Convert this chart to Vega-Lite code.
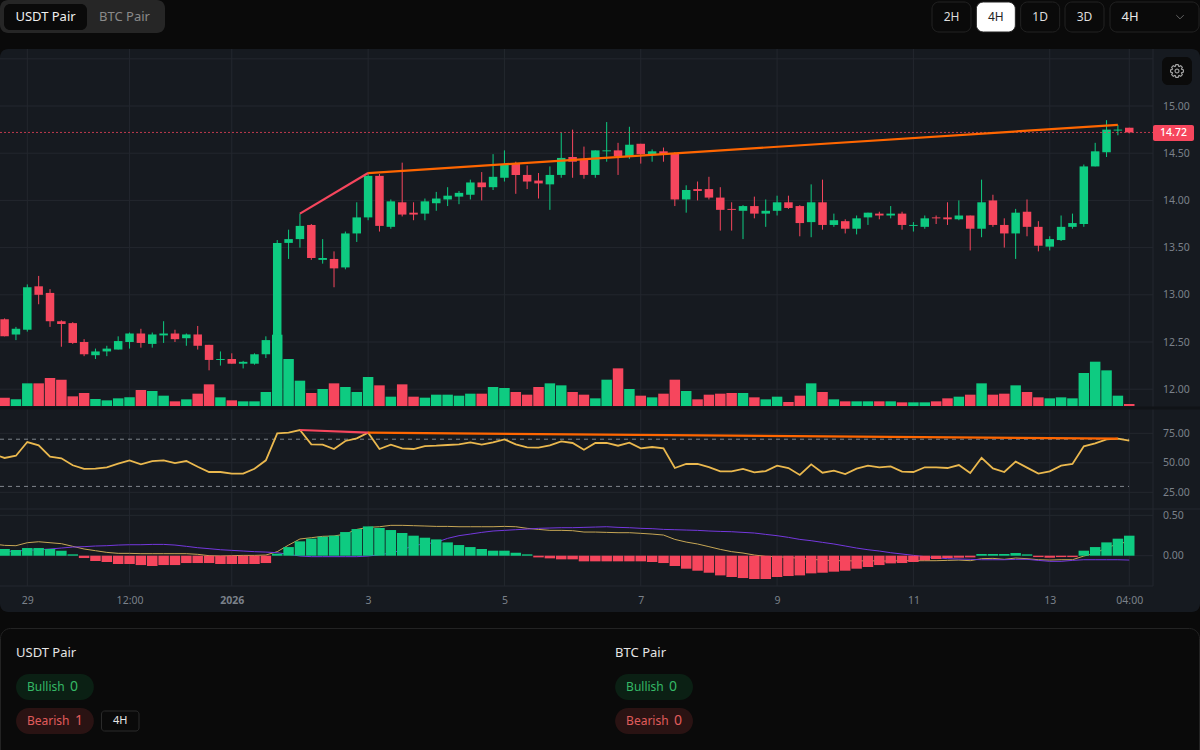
{
"$schema":"https://vega.github.io/schema/vega-lite/v6.json",
"width":1200,"height":750,"padding":0,"autosize":{"type":"none"},
"background":"#0a0a0a",
"config":{"font":"Noto Sans","view":{"stroke":null}},
"resolve":{"scale":{"x":"independent","y":"independent"},"axis":{"x":"independent","y":"independent"}},
"datasets":{
"bars":[
{"t":"2025-12-28T12:00:00Z","rsi":57.5,"macd":0.145,"signal":0.045},
{"t":"2025-12-28T16:00:00Z","o":12.74,"h":12.75,"l":12.56,"c":12.56,"vol":25,"rsi":54.1,"macd":0.128,"signal":0.05,"hist":0.083},
{"t":"2025-12-28T20:00:00Z","o":12.58,"h":12.66,"l":12.52,"c":12.64,"vol":20,"rsi":56.0,"macd":0.124,"signal":0.058,"hist":0.07},
{"t":"2025-12-29T00:00:00Z","o":12.63,"h":13.11,"l":12.61,"c":13.08,"vol":68,"rsi":67.6,"macd":0.161,"signal":0.066,"hist":0.095},
{"t":"2025-12-29T04:00:00Z","o":13.09,"h":13.2,"l":12.9,"c":13.0,"vol":68,"rsi":64.8,"macd":0.173,"signal":0.074,"hist":0.095},
{"t":"2025-12-29T08:00:00Z","o":13.02,"h":13.06,"l":12.66,"c":12.72,"vol":84,"rsi":55.2,"macd":0.161,"signal":0.083,"hist":0.083},
{"t":"2025-12-29T12:00:00Z","o":12.72,"h":12.73,"l":12.45,"c":12.69,"vol":79,"rsi":53.8,"macd":0.149,"signal":0.095,"hist":0.062},
{"t":"2025-12-29T16:00:00Z","o":12.7,"h":12.71,"l":12.48,"c":12.49,"vol":29,"rsi":47.9,"macd":0.116,"signal":0.107,"hist":0.017},
{"t":"2025-12-29T20:00:00Z","o":12.5,"h":12.53,"l":12.35,"c":12.37,"vol":39,"rsi":44.8,"macd":0.083,"signal":0.112,"hist":-0.029},
{"t":"2025-12-30T00:00:00Z","o":12.36,"h":12.43,"l":12.32,"c":12.4,"vol":21,"rsi":45.0,"macd":0.062,"signal":0.12,"hist":-0.066},
{"t":"2025-12-30T04:00:00Z","o":12.4,"h":12.46,"l":12.35,"c":12.43,"vol":17,"rsi":46.2,"macd":0.041,"signal":0.124,"hist":-0.078},
{"t":"2025-12-30T08:00:00Z","o":12.42,"h":12.56,"l":12.42,"c":12.51,"vol":23,"rsi":49.3,"macd":0.029,"signal":0.132,"hist":-0.103},
{"t":"2025-12-30T12:00:00Z","o":12.5,"h":12.6,"l":12.43,"c":12.59,"vol":26,"rsi":52.1,"macd":0.029,"signal":0.136,"hist":-0.103},
{"t":"2025-12-30T16:00:00Z","o":12.59,"h":12.64,"l":12.44,"c":12.49,"vol":48,"rsi":48.7,"macd":0.025,"signal":0.136,"hist":-0.116},
{"t":"2025-12-30T20:00:00Z","o":12.48,"h":12.6,"l":12.44,"c":12.58,"vol":45,"rsi":51.5,"macd":0.025,"signal":0.14,"hist":-0.128},
{"t":"2025-12-31T00:00:00Z","o":12.57,"h":12.72,"l":12.49,"c":12.59,"vol":31,"rsi":52.1,"macd":0.025,"signal":0.14,"hist":-0.116},
{"t":"2025-12-31T04:00:00Z","o":12.59,"h":12.63,"l":12.5,"c":12.53,"vol":14,"rsi":49.8,"macd":0.025,"signal":0.132,"hist":-0.116},
{"t":"2025-12-31T08:00:00Z","o":12.54,"h":12.59,"l":12.46,"c":12.58,"vol":20,"rsi":51.5,"macd":0.025,"signal":0.116,"hist":-0.091},
{"t":"2025-12-31T12:00:00Z","o":12.58,"h":12.67,"l":12.42,"c":12.46,"vol":37,"rsi":46.7,"macd":0.017,"signal":0.099,"hist":-0.091},
{"t":"2025-12-31T16:00:00Z","o":12.47,"h":12.47,"l":12.2,"c":12.31,"vol":65,"rsi":42.2,"macd":0,"signal":0.087,"hist":-0.091},
{"t":"2025-12-31T20:00:00Z","o":12.31,"h":12.4,"l":12.25,"c":12.32,"vol":26,"rsi":42.2,"macd":-0.004,"signal":0.074,"hist":-0.103},
{"t":"2026-01-01T00:00:00Z","o":12.32,"h":12.38,"l":12.27,"c":12.27,"vol":17,"rsi":40.8,"macd":0,"signal":0.066,"hist":-0.103},
{"t":"2026-01-01T04:00:00Z","o":12.27,"h":12.3,"l":12.22,"c":12.29,"vol":14,"rsi":40.8,"macd":0.004,"signal":0.058,"hist":-0.103},
{"t":"2026-01-01T08:00:00Z","o":12.27,"h":12.38,"l":12.26,"c":12.37,"vol":14,"rsi":45.0,"macd":0.004,"signal":0.05,"hist":-0.103},
{"t":"2026-01-01T12:00:00Z","o":12.37,"h":12.56,"l":12.33,"c":12.52,"vol":42,"rsi":52.1,"macd":0.008,"signal":0.045,"hist":-0.091},
{"t":"2026-01-01T16:00:00Z","o":12.52,"h":13.58,"l":12.51,"c":13.55,"vol":214,"rsi":75.0,"macd":0.05,"signal":0.037,"hist":0.025},
{"t":"2026-01-01T20:00:00Z","o":13.55,"h":13.69,"l":13.38,"c":13.59,"vol":141,"rsi":75.5,"macd":0.132,"signal":0.017,"hist":0.107},
{"t":"2026-01-02T00:00:00Z","o":13.59,"h":13.86,"l":13.5,"c":13.73,"vol":76,"rsi":77.8,"macd":0.207,"signal":-0.004,"hist":0.178},
{"t":"2026-01-02T04:00:00Z","o":13.74,"h":13.75,"l":13.37,"c":13.39,"vol":39,"rsi":65.6,"macd":0.223,"signal":-0.012,"hist":0.211},
{"t":"2026-01-02T08:00:00Z","o":13.37,"h":13.59,"l":13.33,"c":13.39,"vol":51,"rsi":65.4,"macd":0.24,"signal":-0.012,"hist":0.235},
{"t":"2026-01-02T12:00:00Z","o":13.38,"h":13.46,"l":13.08,"c":13.28,"vol":68,"rsi":61.7,"macd":0.244,"signal":-0.012,"hist":0.248},
{"t":"2026-01-02T16:00:00Z","o":13.29,"h":13.67,"l":13.27,"c":13.65,"vol":57,"rsi":68.5,"macd":0.268,"signal":-0.012,"hist":0.293},
{"t":"2026-01-02T20:00:00Z","o":13.65,"h":13.98,"l":13.56,"c":13.82,"vol":42,"rsi":70.7,"macd":0.326,"signal":-0.012,"hist":0.33},
{"t":"2026-01-03T00:00:00Z","o":13.82,"h":14.29,"l":13.79,"c":14.26,"vol":87,"rsi":75.5,"macd":0.351,"signal":-0.004,"hist":0.363},
{"t":"2026-01-03T04:00:00Z","o":14.26,"h":14.28,"l":13.67,"c":13.73,"vol":62,"rsi":61.7,"macd":0.359,"signal":0.012,"hist":0.343},
{"t":"2026-01-03T08:00:00Z","o":13.72,"h":14.01,"l":13.7,"c":13.99,"vol":28,"rsi":65.4,"macd":0.376,"signal":0.033,"hist":0.318},
{"t":"2026-01-03T12:00:00Z","o":13.98,"h":14.4,"l":13.83,"c":13.85,"vol":65,"rsi":62.2,"macd":0.376,"signal":0.07,"hist":0.281},
{"t":"2026-01-03T16:00:00Z","o":13.87,"h":13.98,"l":13.79,"c":13.85,"vol":28,"rsi":61.7,"macd":0.372,"signal":0.128,"hist":0.248},
{"t":"2026-01-03T20:00:00Z","o":13.86,"h":14.02,"l":13.79,"c":13.99,"vol":25,"rsi":64.2,"macd":0.368,"signal":0.145,"hist":0.223},
{"t":"2026-01-04T00:00:00Z","o":13.97,"h":14.09,"l":13.89,"c":14.02,"vol":34,"rsi":64.5,"macd":0.363,"signal":0.165,"hist":0.202},
{"t":"2026-01-04T04:00:00Z","o":14.01,"h":14.14,"l":13.94,"c":14.05,"vol":34,"rsi":65.1,"macd":0.363,"signal":0.215,"hist":0.165},
{"t":"2026-01-04T08:00:00Z","o":14.04,"h":14.1,"l":13.96,"c":14.08,"vol":31,"rsi":65.6,"macd":0.359,"signal":0.248,"hist":0.132},
{"t":"2026-01-04T12:00:00Z","o":14.06,"h":14.22,"l":14.01,"c":14.19,"vol":37,"rsi":67.3,"macd":0.359,"signal":0.268,"hist":0.107},
{"t":"2026-01-04T16:00:00Z","o":14.19,"h":14.3,"l":14.0,"c":14.14,"vol":37,"rsi":65.4,"macd":0.359,"signal":0.289,"hist":0.083},
{"t":"2026-01-04T20:00:00Z","o":14.14,"h":14.49,"l":14.11,"c":14.25,"vol":57,"rsi":67.3,"macd":0.359,"signal":0.306,"hist":0.062},
{"t":"2026-01-05T00:00:00Z","o":14.24,"h":14.53,"l":14.2,"c":14.38,"vol":54,"rsi":69.9,"macd":0.363,"signal":0.314,"hist":0.062},
{"t":"2026-01-05T04:00:00Z","o":14.39,"h":14.41,"l":14.07,"c":14.27,"vol":42,"rsi":65.6,"macd":0.359,"signal":0.322,"hist":0.037},
{"t":"2026-01-05T08:00:00Z","o":14.27,"h":14.37,"l":14.12,"c":14.2,"vol":34,"rsi":63.1,"macd":0.339,"signal":0.33,"hist":0.017},
{"t":"2026-01-05T12:00:00Z","o":14.21,"h":14.29,"l":14.02,"c":14.18,"vol":57,"rsi":62.8,"macd":0.326,"signal":0.339,"hist":-0.021},
{"t":"2026-01-05T16:00:00Z","o":14.17,"h":14.36,"l":13.9,"c":14.27,"vol":68,"rsi":64.8,"macd":0.314,"signal":0.343,"hist":-0.033},
{"t":"2026-01-05T20:00:00Z","o":14.27,"h":14.72,"l":14.24,"c":14.45,"vol":62,"rsi":68.2,"macd":0.314,"signal":0.347,"hist":-0.045},
{"t":"2026-01-06T00:00:00Z","o":14.46,"h":14.75,"l":14.24,"c":14.41,"vol":42,"rsi":66.8,"macd":0.31,"signal":0.347,"hist":-0.045},
{"t":"2026-01-06T04:00:00Z","o":14.44,"h":14.57,"l":14.23,"c":14.27,"vol":34,"rsi":61.1,"macd":0.293,"signal":0.351,"hist":-0.07},
{"t":"2026-01-06T08:00:00Z","o":14.27,"h":14.53,"l":14.24,"c":14.53,"vol":23,"rsi":66.8,"macd":0.293,"signal":0.355,"hist":-0.07},
{"t":"2026-01-06T12:00:00Z","o":14.52,"h":14.83,"l":14.41,"c":14.53,"vol":79,"rsi":66.8,"macd":0.289,"signal":0.359,"hist":-0.07},
{"t":"2026-01-06T16:00:00Z","o":14.53,"h":14.61,"l":14.27,"c":14.47,"vol":113,"rsi":64.5,"macd":0.285,"signal":0.351,"hist":-0.07},
{"t":"2026-01-06T20:00:00Z","o":14.47,"h":14.78,"l":14.44,"c":14.59,"vol":51,"rsi":67.1,"macd":0.285,"signal":0.347,"hist":-0.07},
{"t":"2026-01-07T00:00:00Z","o":14.6,"h":14.6,"l":14.39,"c":14.49,"vol":31,"rsi":62.2,"macd":0.277,"signal":0.339,"hist":-0.07},
{"t":"2026-01-07T04:00:00Z","o":14.48,"h":14.54,"l":14.41,"c":14.52,"vol":26,"rsi":63.4,"macd":0.268,"signal":0.335,"hist":-0.078},
{"t":"2026-01-07T08:00:00Z","o":14.52,"h":14.56,"l":14.41,"c":14.49,"vol":37,"rsi":62.2,"macd":0.256,"signal":0.326,"hist":-0.091},
{"t":"2026-01-07T12:00:00Z","o":14.5,"h":14.51,"l":13.94,"c":14.01,"vol":79,"rsi":45.6,"macd":0.202,"signal":0.322,"hist":-0.128},
{"t":"2026-01-07T16:00:00Z","o":14.01,"h":14.16,"l":13.87,"c":14.11,"vol":45,"rsi":49.0,"macd":0.169,"signal":0.318,"hist":-0.161},
{"t":"2026-01-07T20:00:00Z","o":14.12,"h":14.2,"l":14.0,"c":14.1,"vol":20,"rsi":49.0,"macd":0.145,"signal":0.314,"hist":-0.186},
{"t":"2026-01-08T00:00:00Z","o":14.12,"h":14.25,"l":14.01,"c":14.03,"vol":34,"rsi":46.4,"macd":0.112,"signal":0.306,"hist":-0.211},
{"t":"2026-01-08T04:00:00Z","o":14.03,"h":14.14,"l":13.68,"c":13.9,"vol":37,"rsi":42.8,"macd":0.078,"signal":0.301,"hist":-0.244},
{"t":"2026-01-08T08:00:00Z","o":13.91,"h":13.98,"l":13.68,"c":13.9,"vol":39,"rsi":42.8,"macd":0.05,"signal":0.297,"hist":-0.264},
{"t":"2026-01-08T12:00:00Z","o":13.89,"h":13.95,"l":13.59,"c":13.94,"vol":39,"rsi":44.8,"macd":0.033,"signal":0.289,"hist":-0.277},
{"t":"2026-01-08T16:00:00Z","o":13.94,"h":14.04,"l":13.81,"c":13.86,"vol":26,"rsi":41.9,"macd":0.008,"signal":0.281,"hist":-0.289},
{"t":"2026-01-08T20:00:00Z","o":13.86,"h":14.01,"l":13.72,"c":13.89,"vol":20,"rsi":43.0,"macd":-0.008,"signal":0.264,"hist":-0.289},
{"t":"2026-01-09T00:00:00Z","o":13.89,"h":14.05,"l":13.84,"c":13.98,"vol":28,"rsi":47.6,"macd":-0.012,"signal":0.248,"hist":-0.264},
{"t":"2026-01-09T04:00:00Z","o":13.98,"h":14.05,"l":13.91,"c":13.92,"vol":12,"rsi":45.6,"macd":-0.021,"signal":0.227,"hist":-0.252},
{"t":"2026-01-09T08:00:00Z","o":13.94,"h":13.95,"l":13.62,"c":13.76,"vol":31,"rsi":39.7,"macd":-0.033,"signal":0.202,"hist":-0.244},
{"t":"2026-01-09T12:00:00Z","o":13.77,"h":14.17,"l":13.61,"c":13.98,"vol":68,"rsi":48.7,"macd":-0.045,"signal":0.186,"hist":-0.219},
{"t":"2026-01-09T16:00:00Z","o":13.98,"h":14.22,"l":13.69,"c":13.74,"vol":42,"rsi":41.6,"macd":-0.054,"signal":0.165,"hist":-0.211},
{"t":"2026-01-09T20:00:00Z","o":13.74,"h":13.86,"l":13.72,"c":13.79,"vol":20,"rsi":43.3,"macd":-0.062,"signal":0.145,"hist":-0.198},
{"t":"2026-01-10T00:00:00Z","o":13.78,"h":13.8,"l":13.65,"c":13.7,"vol":14,"rsi":40.5,"macd":-0.062,"signal":0.12,"hist":-0.186},
{"t":"2026-01-10T04:00:00Z","o":13.7,"h":13.84,"l":13.64,"c":13.81,"vol":14,"rsi":45.0,"macd":-0.066,"signal":0.095,"hist":-0.161},
{"t":"2026-01-10T08:00:00Z","o":13.82,"h":13.87,"l":13.74,"c":13.87,"vol":14,"rsi":47.6,"macd":-0.062,"signal":0.074,"hist":-0.14},
{"t":"2026-01-10T12:00:00Z","o":13.86,"h":13.88,"l":13.8,"c":13.84,"vol":14,"rsi":46.2,"macd":-0.066,"signal":0.058,"hist":-0.116},
{"t":"2026-01-10T16:00:00Z","o":13.84,"h":13.94,"l":13.81,"c":13.86,"vol":14,"rsi":47.0,"macd":-0.066,"signal":0.037,"hist":-0.095},
{"t":"2026-01-10T20:00:00Z","o":13.86,"h":13.88,"l":13.69,"c":13.74,"vol":11,"rsi":42.5,"macd":-0.062,"signal":0.021,"hist":-0.091},
{"t":"2026-01-11T00:00:00Z","o":13.73,"h":13.77,"l":13.67,"c":13.74,"vol":11,"rsi":42.2,"macd":-0.062,"signal":0.004,"hist":-0.078},
{"t":"2026-01-11T04:00:00Z","o":13.72,"h":13.84,"l":13.7,"c":13.81,"vol":11,"rsi":46.2,"macd":-0.062,"signal":-0.012,"hist":-0.058},
{"t":"2026-01-11T08:00:00Z","o":13.82,"h":13.84,"l":13.75,"c":13.81,"vol":14,"rsi":46.2,"macd":-0.062,"signal":-0.025,"hist":-0.041},
{"t":"2026-01-11T12:00:00Z","o":13.82,"h":13.98,"l":13.74,"c":13.8,"vol":23,"rsi":45.6,"macd":-0.058,"signal":-0.037,"hist":-0.029},
{"t":"2026-01-11T16:00:00Z","o":13.8,"h":14.0,"l":13.79,"c":13.84,"vol":28,"rsi":48.1,"macd":-0.054,"signal":-0.041,"hist":-0.025},
{"t":"2026-01-11T20:00:00Z","o":13.84,"h":13.84,"l":13.47,"c":13.7,"vol":34,"rsi":41.4,"macd":-0.062,"signal":-0.045,"hist":-0.021},
{"t":"2026-01-12T00:00:00Z","o":13.7,"h":14.22,"l":13.61,"c":13.98,"vol":68,"rsi":54.3,"macd":-0.037,"signal":-0.05,"hist":0.021},
{"t":"2026-01-12T04:00:00Z","o":14.0,"h":14.06,"l":13.72,"c":13.74,"vol":34,"rsi":45.3,"macd":-0.033,"signal":-0.05,"hist":0.021},
{"t":"2026-01-12T08:00:00Z","o":13.74,"h":13.81,"l":13.5,"c":13.65,"vol":37,"rsi":42.2,"macd":-0.045,"signal":-0.05,"hist":0.021},
{"t":"2026-01-12T12:00:00Z","o":13.65,"h":13.91,"l":13.38,"c":13.87,"vol":62,"rsi":51.0,"macd":-0.029,"signal":-0.045,"hist":0.033},
{"t":"2026-01-12T16:00:00Z","o":13.88,"h":14.01,"l":13.62,"c":13.72,"vol":42,"rsi":45.9,"macd":-0.037,"signal":-0.045,"hist":0.017},
{"t":"2026-01-12T20:00:00Z","o":13.72,"h":13.78,"l":13.46,"c":13.52,"vol":26,"rsi":40.8,"macd":-0.05,"signal":-0.058,"hist":-0.017},
{"t":"2026-01-13T00:00:00Z","o":13.51,"h":13.62,"l":13.47,"c":13.59,"vol":23,"rsi":42.8,"macd":-0.054,"signal":-0.07,"hist":-0.025},
{"t":"2026-01-13T04:00:00Z","o":13.58,"h":13.84,"l":13.57,"c":13.72,"vol":26,"rsi":47.6,"macd":-0.05,"signal":-0.07,"hist":-0.017},
{"t":"2026-01-13T08:00:00Z","o":13.72,"h":13.86,"l":13.7,"c":13.76,"vol":23,"rsi":49.0,"macd":-0.05,"signal":-0.058,"hist":-0.017},
{"t":"2026-01-13T12:00:00Z","o":13.75,"h":14.38,"l":13.72,"c":14.36,"vol":99,"rsi":64.0,"macd":-0.004,"signal":-0.05,"hist":0.062},
{"t":"2026-01-13T16:00:00Z","o":14.36,"h":14.61,"l":14.36,"c":14.52,"vol":133,"rsi":66.5,"macd":0.029,"signal":-0.05,"hist":0.107},
{"t":"2026-01-13T20:00:00Z","o":14.51,"h":14.85,"l":14.46,"c":14.75,"vol":107,"rsi":69.9,"macd":0.099,"signal":-0.05,"hist":0.165},
{"t":"2026-01-14T00:00:00Z","o":14.74,"h":14.8,"l":14.69,"c":14.75,"vol":31,"rsi":70.5,"macd":0.145,"signal":-0.05,"hist":0.211},
{"t":"2026-01-14T04:00:00Z","o":14.77,"h":14.77,"l":14.71,"c":14.72,"vol":6,"rsi":68.8,"macd":0.178,"signal":-0.054,"hist":0.248}
],
"timeTicks":[{"t":"2025-12-29T00:00:00Z"},{"t":"2025-12-30T12:00:00Z"},{"t":"2026-01-01T00:00:00Z"},{"t":"2026-01-03T00:00:00Z"},{"t":"2026-01-05T00:00:00Z"},{"t":"2026-01-07T00:00:00Z"},{"t":"2026-01-09T00:00:00Z"},{"t":"2026-01-11T00:00:00Z"},{"t":"2026-01-13T00:00:00Z"},{"t":"2026-01-14T04:00:00Z"}],
"priceTicks":[{"tick":12},{"tick":12.5},{"tick":13},{"tick":13.5},{"tick":14},{"tick":14.5},{"tick":15},{"tick":15.5}],
"rsiTicks":[{"tick":25},{"tick":50},{"tick":75}],
"rsiLevels":[{"level":70},{"level":30}],
"macdTicks":[{"tick":0},{"tick":0.5}],
"priceDivergence":[
{"t":"2026-01-02T00:00:00Z","value":13.86,"status":"forming"},
{"t":"2026-01-03T00:00:00Z","value":14.29,"status":"forming"},
{"t":"2026-01-03T00:00:00Z","value":14.29,"status":"active"},
{"t":"2026-01-14T00:00:00Z","value":14.8,"status":"active"}],
"rsiDivergence":[
{"t":"2026-01-02T00:00:00Z","value":77.8,"status":"forming"},
{"t":"2026-01-03T00:00:00Z","value":75.5,"status":"forming"},
{"t":"2026-01-03T00:00:00Z","value":75.5,"status":"active"},
{"t":"2026-01-14T00:00:00Z","value":70.5,"status":"active"}],
"lastPrice":[{"price":14.72,"label":"14.72"}],
"tabs":[{"tab":"USDT Pair"},{"tab":"BTC Pair"}],
"timeframes":[{"tf":"2H"},{"tf":"4H"},{"tf":"1D"},{"tf":"3D"}],
"summary":[
{"pair":"USDT Pair","row":"title"},{"pair":"BTC Pair","row":"title"},
{"pair":"USDT Pair","row":"Bullish","count":0},{"pair":"USDT Pair","row":"Bearish","count":1},
{"pair":"BTC Pair","row":"Bullish","count":0},{"pair":"BTC Pair","row":"Bearish","count":0}]
},
"layer":[
{"data":{"values":[{"panel":"chart"}]},"mark":{"type":"rect","fill":"#161a20","cornerRadius":8},
"encoding":{"x":{"field":"panel","type":"nominal","axis":null,"scale":{"type":"band","domain":["chart"],"range":[0,1200],"padding":0}},"y":{"field":"panel","type":"nominal","axis":null,"scale":{"type":"band","domain":["chart"],"range":[49,612],"padding":0}}}},

{"data":{"name":"timeTicks"},"mark":{"type":"rule","stroke":"#23272e","strokeWidth":1},
"encoding":{"x":{"field":"t","type":"temporal","scale":{"type":"utc","domain":[1766931796800,1768393296000],"range":[0,1153],"nice":false},
"axis":{"orient":"bottom","offset":-158,"zindex":1,"grid":false,"domain":false,"ticks":false,"labelPadding":3,"labelColor":"#7b818a","labelFontSize":10.5,"labelFlush":false,"labelOverlap":false,"labelBound":false,"title":null,
"values":[1766966400000,1767096000000,1767225600000,1767398400000,1767571200000,1767744000000,1767916800000,1768089600000,1768262400000,1768363200000],
"labelExpr":"utcFormat(datum.value,'%H')=='12'?'12:00':utcFormat(datum.value,'%H')=='04'?'04:00':utcFormat(datum.value,'%Y')=='2026'&&utcFormat(datum.value,'%-d')=='1'?'2026':utcFormat(datum.value,'%-d')",
"labelFontWeight":{"expr":"utcFormat(datum.value,'%Y-%m-%d')=='2026-01-01'?'bold':'normal'"}}},
"y":{"datum":0,"type":"quantitative","axis":null,"scale":{"domain":[0,1],"range":[586,49],"nice":false}},"y2":{"datum":1}}},

{"data":{"name":"priceTicks"},"mark":{"type":"rule","stroke":"#23272e","strokeWidth":1},
"encoding":{"y":{"field":"tick","type":"quantitative","scale":{"domain":[11.822,15.604],"range":[406,49],"nice":false,"zero":false},
"axis":{"orient":"right","offset":-47,"zindex":1,"grid":false,"domain":false,"ticks":false,"labelPadding":9.5,"labelColor":"#7b818a","labelFontSize":10.5,"format":".2f","labelFlush":false,"labelOverlap":false,"labelBound":false,"title":null,"values":[12,12.5,13,13.5,14,14.5,15]}},
"x":{"datum":0,"type":"quantitative","axis":null,"scale":{"domain":[0,1],"range":[0,1153],"nice":false}},"x2":{"datum":1}}},

{"data":{"name":"rsiTicks"},"mark":{"type":"rule","stroke":"#23272e","strokeWidth":1},
"encoding":{"y":{"field":"tick","type":"quantitative","scale":{"domain":[10.85,97.3],"range":[509,407],"nice":false,"zero":false},
"axis":{"orient":"right","offset":-47,"zindex":1,"grid":false,"domain":false,"ticks":false,"labelPadding":9.5,"labelColor":"#7b818a","labelFontSize":10.5,"format":".2f","labelFlush":false,"labelOverlap":false,"labelBound":false,"title":null,"values":[25,50,75]}},
"x":{"datum":0,"type":"quantitative","axis":null,"scale":{"domain":[0,1],"range":[0,1153],"nice":false}},"x2":{"datum":1}}},

{"data":{"name":"macdTicks"},"mark":{"type":"rule","stroke":"#23272e","strokeWidth":1},
"encoding":{"y":{"field":"tick","type":"quantitative","scale":{"domain":[-0.3755,0.5787],"range":[586,509],"nice":false,"zero":false},
"axis":{"orient":"right","offset":-47,"zindex":1,"grid":false,"domain":false,"ticks":false,"labelPadding":9.5,"labelColor":"#7b818a","labelFontSize":10.5,"format":".2f","labelFlush":false,"labelOverlap":false,"labelBound":false,"title":null,"values":[0,0.5]}},
"x":{"datum":0,"type":"quantitative","axis":null,"scale":{"domain":[0,1],"range":[0,1153],"nice":false}},"x2":{"datum":1}}},

{"data":{"values":[{"line":"axis edge"}]},"mark":{"type":"rule","stroke":"#23272e","strokeWidth":1},
"encoding":{"x":{"datum":1,"type":"quantitative","axis":null,"scale":{"domain":[0,1],"range":[0,1153],"nice":false}},
"y":{"datum":0,"type":"quantitative","axis":null,"scale":{"domain":[0,1],"range":[586,49],"nice":false}},"y2":{"datum":1}}},
{"data":{"values":[{"line":"time edge"}]},"mark":{"type":"rule","stroke":"#23272e","strokeWidth":1},
"encoding":{"y":{"datum":0,"type":"quantitative","axis":null,"scale":{"domain":[0,1],"range":[586,585],"nice":false}},
"x":{"datum":0,"type":"quantitative","axis":null,"scale":{"domain":[0,1],"range":[0,1153],"nice":false}},"x2":{"datum":1}}},
{"data":{"values":[{"line":"macd top"}]},"mark":{"type":"rule","stroke":"#23272e","strokeWidth":1},
"encoding":{"y":{"datum":0,"type":"quantitative","axis":null,"scale":{"domain":[0,1],"range":[509,508],"nice":false}},
"x":{"datum":0,"type":"quantitative","axis":null,"scale":{"domain":[0,1],"range":[0,1200],"nice":false}},"x2":{"datum":1}}},
{"data":{"values":[{"line":"rsi top"}]},"mark":{"type":"rule","stroke":"#101317","strokeWidth":3},
"encoding":{"y":{"datum":0,"type":"quantitative","axis":null,"scale":{"domain":[0,1],"range":[408,407],"nice":false}},
"x":{"datum":0,"type":"quantitative","axis":null,"scale":{"domain":[0,1],"range":[0,1200],"nice":false}},"x2":{"datum":1}}},

{"data":{"name":"bars"},"mark":{"type":"rule","strokeWidth":1},
"encoding":{"x":{"field":"t","type":"temporal","axis":null,"scale":{"type":"utc","domain":[1766931796800,1768393296000],"range":[0,1153],"nice":false}},
"y":{"field":"l","type":"quantitative","axis":null,"scale":{"domain":[11.822,15.604],"range":[406,49],"nice":false,"zero":false}},"y2":{"field":"h"},
"color":{"condition":{"test":"datum.c>=datum.o","value":"#0ecb81"},"value":"#f6465d"}}},
{"data":{"name":"bars"},"mark":{"type":"bar","size":8.5},
"encoding":{"x":{"field":"t","type":"temporal","axis":null,"scale":{"type":"utc","domain":[1766931796800,1768393296000],"range":[0,1153],"nice":false,"padding":0}},
"y":{"field":"o","type":"quantitative","axis":null,"scale":{"domain":[11.822,15.604],"range":[406,49],"nice":false,"zero":false}},"y2":{"field":"c"},
"color":{"condition":{"test":"datum.c>=datum.o","value":"#0ecb81"},"value":"#f6465d"}}},
{"data":{"name":"bars"},"mark":{"type":"bar","size":10.5},
"encoding":{"x":{"field":"t","type":"temporal","axis":null,"scale":{"type":"utc","domain":[1766931796800,1768393296000],"range":[0,1153],"nice":false,"padding":0}},
"y":{"field":"vol","type":"quantitative","axis":null,"stack":null,"scale":{"domain":[0,214],"range":[406,334.7],"nice":false}},
"color":{"condition":{"test":"datum.c>=datum.o","value":"#0ecb81"},"value":"#f6465d"}}},

{"data":{"name":"lastPrice"},"mark":{"type":"rule","stroke":"#f6465d","strokeOpacity":0.75,"strokeWidth":1,"strokeDash":[2,2]},
"encoding":{"y":{"field":"price","type":"quantitative","axis":null,"scale":{"domain":[11.822,15.604],"range":[406,49],"nice":false,"zero":false}},
"x":{"datum":0,"type":"quantitative","axis":null,"scale":{"domain":[0,1],"range":[0,1153],"nice":false}},"x2":{"datum":1}}},
{"data":{"name":"priceDivergence"},"mark":{"type":"line","strokeWidth":2.2},
"encoding":{"x":{"field":"t","type":"temporal","axis":null,"scale":{"type":"utc","domain":[1766931796800,1768393296000],"range":[0,1153],"nice":false}},
"y":{"field":"value","type":"quantitative","axis":null,"scale":{"domain":[11.822,15.604],"range":[406,49],"nice":false,"zero":false}},
"color":{"field":"status","type":"nominal","legend":null,"scale":{"domain":["forming","active"],"range":["#f6465d","#ff6600"]}}}},
{"data":{"name":"lastPrice"},"mark":{"type":"rect","fill":"#f6465d","cornerRadius":2},
"encoding":{"x":{"field":"label","type":"nominal","axis":null,"scale":{"type":"band","domain":["14.72"],"range":[1153,1194],"padding":0}},"y":{"field":"label","type":"nominal","axis":null,"scale":{"type":"band","domain":["14.72"],"range":[125,141],"padding":0}}}},
{"data":{"name":"lastPrice"},"mark":{"type":"text","fill":"#ffffff","fontSize":10.5,"fontWeight":500},
"encoding":{"text":{"field":"label"},"x":{"field":"label","type":"nominal","axis":null,"scale":{"type":"band","domain":["14.72"],"range":[1153,1194],"padding":0}},"y":{"field":"label","type":"nominal","axis":null,"scale":{"type":"band","domain":["14.72"],"range":[125,141],"padding":0}}}},

{"data":{"name":"rsiLevels"},"mark":{"type":"rule","stroke":"#9aa0a8","strokeOpacity":0.8,"strokeWidth":1,"strokeDash":[4,4]},
"encoding":{"y":{"field":"level","type":"quantitative","axis":null,"scale":{"domain":[10.85,97.3],"range":[509,407],"nice":false,"zero":false}},
"x":{"datum":0,"type":"quantitative","axis":null,"scale":{"domain":[0,1],"range":[0,1129],"nice":false}},"x2":{"datum":1}}},
{"data":{"name":"bars"},"mark":{"type":"line","stroke":"#eab84e","strokeWidth":1.8},
"encoding":{"x":{"field":"t","type":"temporal","axis":null,"scale":{"type":"utc","domain":[1766931796800,1768393296000],"range":[0,1153],"nice":false}},
"y":{"field":"rsi","type":"quantitative","axis":null,"scale":{"domain":[10.85,97.3],"range":[509,407],"nice":false,"zero":false}}}},
{"data":{"name":"rsiDivergence"},"mark":{"type":"line","strokeWidth":2.2},
"encoding":{"x":{"field":"t","type":"temporal","axis":null,"scale":{"type":"utc","domain":[1766931796800,1768393296000],"range":[0,1153],"nice":false}},
"y":{"field":"value","type":"quantitative","axis":null,"scale":{"domain":[10.85,97.3],"range":[509,407],"nice":false,"zero":false}},
"color":{"field":"status","type":"nominal","legend":null,"scale":{"domain":["forming","active"],"range":["#f6465d","#ff6600"]}}}},

{"data":{"name":"bars"},"mark":{"type":"line","stroke":"#c6a655","strokeWidth":1},
"encoding":{"x":{"field":"t","type":"temporal","axis":null,"scale":{"type":"utc","domain":[1766931796800,1768393296000],"range":[0,1153],"nice":false}},
"y":{"field":"macd","type":"quantitative","axis":null,"scale":{"domain":[-0.3755,0.5787],"range":[586,509],"nice":false,"zero":false}}}},
{"data":{"name":"bars"},"mark":{"type":"line","stroke":"#7438de","strokeWidth":1},
"encoding":{"x":{"field":"t","type":"temporal","axis":null,"scale":{"type":"utc","domain":[1766931796800,1768393296000],"range":[0,1153],"nice":false}},
"y":{"field":"signal","type":"quantitative","axis":null,"scale":{"domain":[-0.3755,0.5787],"range":[586,509],"nice":false,"zero":false}}}},
{"data":{"name":"bars"},"mark":{"type":"bar","size":10.5},
"encoding":{"x":{"field":"t","type":"temporal","axis":null,"scale":{"type":"utc","domain":[1766931796800,1768393296000],"range":[0,1153],"nice":false,"padding":0}},
"y":{"field":"hist","type":"quantitative","axis":null,"stack":null,"scale":{"domain":[-0.3755,0.5787],"range":[586,509],"nice":false,"zero":false}},
"color":{"condition":{"test":"datum.hist>=0","value":"#0ecb81"},"value":"#f6465d"}}},

{"data":{"values":[{"control":"settings"}]},"mark":{"type":"rect","fill":"#0b0b0b","cornerRadius":6},
"encoding":{"x":{"field":"control","type":"nominal","axis":null,"scale":{"type":"band","domain":["settings"],"range":[1162,1192],"padding":0}},"y":{"field":"control","type":"nominal","axis":null,"scale":{"type":"band","domain":["settings"],"range":[57,85],"padding":0}}}},
{"data":{"values":[{"control":"settings"}]},"mark":{"type":"point","filled":false,"stroke":"#e8e8e8","strokeWidth":1.1,"size":170,"shape":"M.705,-.257L.985,-.174L.985,.174L.705,.257L.68,.317L.819,.574L.574,.819L.317,.68L.257,.705L.174,.985L-.174,.985L-.257,.705L-.317,.68L-.574,.819L-.819,.574L-.68,.317L-.705,.257L-.985,.174L-.985,-.174L-.705,-.257L-.68,-.317L-.819,-.574L-.574,-.819L-.317,-.68L-.257,-.705L-.174,-.985L.174,-.985L.257,-.705L.317,-.68L.574,-.819L.819,-.574L.68,-.317ZM.3,0A.3,.3 0 1,1 -.3,0A.3,.3 0 1,1 .3,0Z"},
"encoding":{"x":{"field":"control","type":"nominal","axis":null,"scale":{"type":"band","domain":["settings"],"range":[1162,1192],"padding":0}},"y":{"field":"control","type":"nominal","axis":null,"scale":{"type":"band","domain":["settings"],"range":[57,85],"padding":0}}}},

{"data":{"values":[{"control":"tabs"}]},"mark":{"type":"rect","fill":"#262626","cornerRadius":8},
"encoding":{"x":{"field":"control","type":"nominal","axis":null,"scale":{"type":"band","domain":["tabs"],"range":[0,165],"padding":0}},"y":{"field":"control","type":"nominal","axis":null,"scale":{"type":"band","domain":["tabs"],"range":[0,33],"padding":0}}}},
{"data":{"name":"tabs"},"transform":[{"filter":"datum.tab=='USDT Pair'"}],"mark":{"type":"rect","fill":"#0a0a0a","cornerRadius":6},
"encoding":{"x":{"field":"tab","type":"nominal","axis":null,"scale":{"type":"band","domain":["USDT Pair"],"range":[4,87],"padding":0}},"y":{"field":"tab","type":"nominal","axis":null,"scale":{"type":"band","domain":["USDT Pair"],"range":[4,30],"padding":0}}}},
{"data":{"name":"tabs"},"mark":{"type":"text","fontSize":13},
"encoding":{"text":{"field":"tab"},"x":{"field":"tab","type":"nominal","axis":null,"scale":{"type":"point","domain":["USDT Pair","BTC Pair"],"range":[45.5,124.5],"padding":0}},"y":{"field":"tab","type":"nominal","axis":null,"scale":{"type":"band","domain":["USDT Pair","BTC Pair"],"range":[17,17],"padding":0}},
"color":{"condition":{"test":"datum.tab=='USDT Pair'","value":"#f0f0f0"},"value":"#8a8a8a"}}},

{"data":{"name":"timeframes"},"mark":{"type":"rect","strokeWidth":1,"stroke":"#232323","cornerRadius":7},
"encoding":{"x":{"field":"tf","type":"nominal","axis":null,"scale":{"type":"band","domain":["2H","4H","1D","3D"],"range":[932,1104],"paddingInner":0.12,"paddingOuter":0}},
"y":{"datum":0,"type":"quantitative","axis":null,"scale":{"domain":[0,1],"range":[32,2],"nice":false}},"y2":{"datum":1},
"fill":{"condition":{"test":"datum.tf=='4H'","value":"#ffffff"},"value":"#0a0a0a"}}},
{"data":{"name":"timeframes"},"mark":{"type":"text","fontSize":12},
"encoding":{"text":{"field":"tf"},"x":{"field":"tf","type":"nominal","axis":null,"scale":{"type":"band","domain":["2H","4H","1D","3D"],"range":[932,1104],"paddingInner":0.12,"paddingOuter":0}},"y":{"datum":0,"type":"quantitative","axis":null,"scale":{"domain":[0,1],"range":[17,16],"nice":false}},
"color":{"condition":{"test":"datum.tf=='4H'","value":"#222222"},"value":"#dddddd"}}},
{"data":{"values":[{"control":"select","value":"4H"}]},"mark":{"type":"rect","fill":"#0a0a0a","stroke":"#232323","strokeWidth":1,"cornerRadius":7},
"encoding":{"x":{"field":"control","type":"nominal","axis":null,"scale":{"type":"band","domain":["select"],"range":[1110,1199],"padding":0}},"y":{"field":"control","type":"nominal","axis":null,"scale":{"type":"band","domain":["select"],"range":[2,32],"padding":0}}}},
{"data":{"values":[{"control":"select","value":"4H"}]},"mark":{"type":"text","fill":"#e8e8e8","fontSize":13},
"encoding":{"text":{"field":"value"},"x":{"field":"control","type":"nominal","axis":null,"scale":{"type":"band","domain":["select"],"range":[1110,1150],"padding":0}},"y":{"field":"control","type":"nominal","axis":null,"scale":{"type":"band","domain":["select"],"range":[2,32],"padding":0}}}},
{"data":{"values":[{"control":"select"}]},"mark":{"type":"point","shape":"M-1,-0.5L0,0.5L1,-0.5","filled":false,"stroke":"#8a8a8a","strokeWidth":1,"size":55},
"encoding":{"x":{"field":"control","type":"nominal","axis":null,"scale":{"type":"band","domain":["select"],"range":[1160,1200],"padding":0}},"y":{"field":"control","type":"nominal","axis":null,"scale":{"type":"band","domain":["select"],"range":[2,32],"padding":0}}}},

{"data":{"values":[{"panel":"summary"}]},"mark":{"type":"rect","fill":"#0a0a0a","stroke":"#232323","strokeWidth":1,"cornerRadius":10},
"encoding":{"x":{"field":"panel","type":"nominal","axis":null,"scale":{"type":"band","domain":["summary"],"range":[0.5,1199.5],"padding":0}},"y":{"field":"panel","type":"nominal","axis":null,"scale":{"type":"band","domain":["summary"],"range":[628.5,760],"padding":0}}}},
{"data":{"name":"summary"},"transform":[{"filter":"datum.row=='title'"}],"mark":{"type":"text","align":"left","fill":"#e5e5e5","fontSize":13},
"encoding":{"text":{"field":"pair"},"x":{"field":"pair","type":"nominal","axis":null,"bandPosition":0,"scale":{"type":"band","domain":["USDT Pair","BTC Pair"],"range":[16,693],"paddingInner":0.87,"paddingOuter":0}},"y":{"field":"row","type":"nominal","axis":null,"scale":{"type":"band","domain":["title","Bullish","Bearish"],"range":[640,734],"paddingInner":0.235,"paddingOuter":0}}}},
{"data":{"name":"summary"},"transform":[{"filter":"datum.row!='title'"}],"mark":{"type":"rect","cornerRadius":13},
"encoding":{"x":{"field":"pair","type":"nominal","axis":null,"scale":{"type":"band","domain":["USDT Pair","BTC Pair"],"range":[16,693],"paddingInner":0.87,"paddingOuter":0}},"y":{"field":"row","type":"nominal","axis":null,"scale":{"type":"band","domain":["title","Bullish","Bearish"],"range":[640,734],"paddingInner":0.235,"paddingOuter":0}},
"fill":{"condition":{"test":"datum.row=='Bullish'","value":"#0b2014"},"value":"#2a1313"}}},
{"data":{"name":"summary"},"transform":[{"filter":"datum.row!='title'"}],"mark":{"type":"text","align":"left","dx":11,"fontSize":12},
"encoding":{"text":{"field":"row"},"x":{"field":"pair","type":"nominal","axis":null,"bandPosition":0,"scale":{"type":"band","domain":["USDT Pair","BTC Pair"],"range":[16,693],"paddingInner":0.87,"paddingOuter":0}},"y":{"field":"row","type":"nominal","axis":null,"scale":{"type":"band","domain":["title","Bullish","Bearish"],"range":[640,734],"paddingInner":0.235,"paddingOuter":0}},
"color":{"condition":{"test":"datum.row=='Bullish'","value":"#35b866"},"value":"#e05c5c"}}},
{"data":{"name":"summary"},"transform":[{"filter":"datum.row=='Bullish'"}],"mark":{"type":"text","align":"left","dx":54,"fontSize":14,"fill":"#35b866"},
"encoding":{"text":{"field":"count"},"x":{"field":"pair","type":"nominal","axis":null,"bandPosition":0,"scale":{"type":"band","domain":["USDT Pair","BTC Pair"],"range":[16,693],"paddingInner":0.87,"paddingOuter":0}},"y":{"field":"row","type":"nominal","axis":null,"scale":{"type":"band","domain":["title","Bullish","Bearish"],"range":[640,734],"paddingInner":0.235,"paddingOuter":0}}}},
{"data":{"name":"summary"},"transform":[{"filter":"datum.row=='Bearish'"}],"mark":{"type":"text","align":"left","dx":59,"fontSize":14,"fill":"#e05c5c"},
"encoding":{"text":{"field":"count"},"x":{"field":"pair","type":"nominal","axis":null,"bandPosition":0,"scale":{"type":"band","domain":["USDT Pair","BTC Pair"],"range":[16,693],"paddingInner":0.87,"paddingOuter":0}},"y":{"field":"row","type":"nominal","axis":null,"scale":{"type":"band","domain":["title","Bullish","Bearish"],"range":[640,734],"paddingInner":0.235,"paddingOuter":0}}}},
{"data":{"values":[{"timeframe":"4H"}]},"mark":{"type":"rect","fill":"#0a0a0a","stroke":"#2a2a2a","strokeWidth":1,"cornerRadius":3},
"encoding":{"x":{"field":"timeframe","type":"nominal","axis":null,"scale":{"type":"band","domain":["4H"],"range":[101.5,139],"padding":0}},"y":{"field":"timeframe","type":"nominal","axis":null,"scale":{"type":"band","domain":["4H"],"range":[711,731],"padding":0}}}},
{"data":{"values":[{"timeframe":"4H"}]},"mark":{"type":"text","fill":"#e5e5e5","fontSize":11},
"encoding":{"text":{"field":"timeframe"},"x":{"field":"timeframe","type":"nominal","axis":null,"scale":{"type":"band","domain":["4H"],"range":[101.5,139],"padding":0}},"y":{"field":"timeframe","type":"nominal","axis":null,"scale":{"type":"band","domain":["4H"],"range":[711,731],"padding":0}}}}
]
}
